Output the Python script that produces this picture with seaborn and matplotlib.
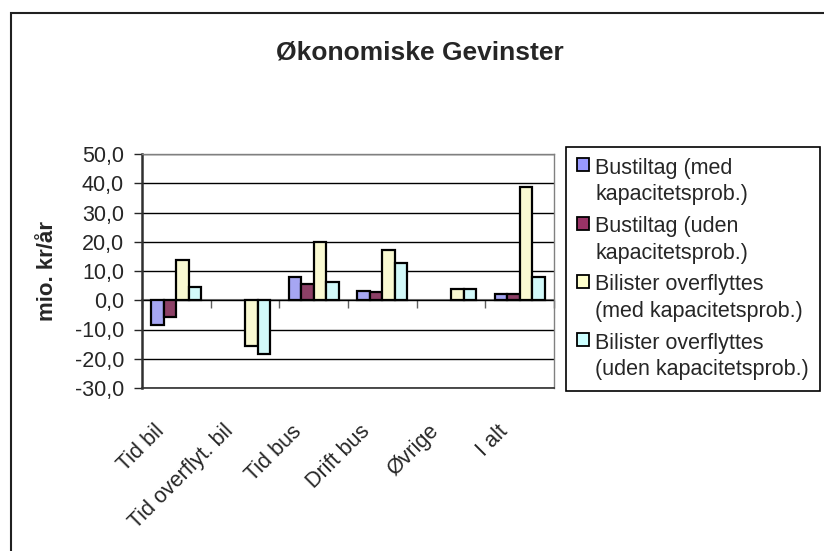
import seaborn as sns
import pandas as pd
import matplotlib.pyplot as plt
import matplotlib.patches as mpatches
from matplotlib.legend_handler import HandlerPatch
from matplotlib.ticker import FuncFormatter, FixedLocator
from matplotlib.transforms import ScaledTranslation

categories = ["Tid bil", "Tid overflyt. bil", "Tid bus", "Drift bus", "Øvrige", "I alt"]
series_names = ["Bustiltag (med\nkapacitetsprob.)",
                "Bustiltag (uden\nkapacitetsprob.)",
                "Bilister overflyttes\n(med kapacitetsprob.)",
                "Bilister overflyttes\n(uden kapacitetsprob.)"]
bus_med = [-8.6, 0.0, 8.0, 3.3, 0.0, 2.2]
bus_uden = [-5.7, 0.0, 5.7, 2.7, 0.0, 2.2]
bil_med = [13.6, -15.6, 20.0, 17.1, 3.9, 38.7]
bil_uden = [4.5, -18.4, 6.2, 12.6, 3.9, 8.0]
colors = ["#9999FF", "#993366", "#FFFFCC", "#CCFFFF"]
y_ticks = [-30, -20, -10, 0, 10, 20, 30, 40, 50]

rows = []
for name, vals in zip(series_names, [bus_med, bus_uden, bil_med, bil_uden]):
    for cat, v in zip(categories, vals):
        rows.append({"kategori": cat, "serie": name, "værdi": v})
df = pd.DataFrame(rows)

sns.set_style("white")
plt.rcParams['font.family'] = ['Liberation Sans', 'DejaVu Sans']

fig = plt.figure(figsize=(8.24, 5.51), dpi=100)
ax = fig.add_axes([142 / 824, 1 - 388 / 551, 412 / 824, 234 / 551])

sns.barplot(data=df, x="kategori", y="værdi", hue="serie", palette=colors,
            width=0.73, edgecolor="black", linewidth=1.6, ax=ax, errorbar=None,
            legend=False)

# Excel draws nothing for zero bars
for p in ax.patches:
    if p.get_height() == 0:
        p.set_linewidth(0)

ax.set_ylim(y_ticks[0], y_ticks[-1])
ax.set_xlim(-0.5, len(categories) - 0.5)
ax.yaxis.set_major_locator(FixedLocator(y_ticks))
ax.yaxis.set_major_formatter(FuncFormatter(lambda v, _: f"{v:.1f}".replace(".", ",")))
ax.grid(axis="y", color="black", linewidth=1)
ax.set_axisbelow(True)
ax.tick_params(axis="y", direction="out", length=6, width=1, pad=7, labelsize=15.5, left=True)
ax.tick_params(axis="x", length=0, labelsize=15.5, pad=29)

for lab in ax.get_xticklabels():
    lab.set_rotation(45)
    lab.set_ha("right")
    lab.set_va("center")
    lab.set_rotation_mode("anchor")
    lab.set_transform(lab.get_transform() + ScaledTranslation(-0.15, 0, fig.dpi_scale_trans))

ax.set_xlabel("")
ax.set_ylabel("mio. kr/år", fontsize=16, fontweight="bold")
ax.yaxis.set_label_coords(-0.205, 0.5)

for s in ["top", "right"]:
    ax.spines[s].set_color("#808080")
    ax.spines[s].set_linewidth(1)
ax.spines["left"].set_color("#303030")
ax.spines["left"].set_linewidth(1.8)
ax.spines["bottom"].set_color("#303030")
ax.spines["bottom"].set_linewidth(1.2)

# category axis crossing at zero
zero_pos = (0 - y_ticks[0]) / (y_ticks[-1] - y_ticks[0])
sec = ax.secondary_xaxis(zero_pos)
sec.set_xticks([i + 0.5 for i in range(-1, len(categories))])
sec.tick_params(direction="out", length=6, width=1, color="#606060", labelbottom=False)
sec.spines["bottom"].set_color("#808080")
sec.spines["bottom"].set_linewidth(1.5)


def first_line_patch(legend, orig_handle, xdescent, ydescent, width, height, fontsize):
    return mpatches.Rectangle((-xdescent, -ydescent + fontsize * 0.8), width, height)


handles = [mpatches.Patch(facecolor=c, edgecolor="black", linewidth=1.3) for c in colors]
leg = ax.legend(handles, series_names, loc="upper left", bbox_to_anchor=(1.029, 1.03),
                borderaxespad=0, fontsize=15.5, frameon=True, fancybox=False,
                edgecolor="black", framealpha=1, handlelength=0.55, handleheight=0.55,
                handletextpad=0.3, labelspacing=0.5, borderpad=0.5,
                handler_map={mpatches.Patch: HandlerPatch(patch_func=first_line_patch)})
leg.get_frame().set_linewidth(1.2)
for t in leg.get_texts():
    t.set_linespacing(1.35)

fig.text(420 / 824, 1 - 52 / 551, "Økonomiske Gevinster", ha="center", va="center",
         fontsize=19, fontweight="bold")

border = mpatches.Rectangle((11 / 824, -0.1), 1.2, 1 - 13 / 551 + 0.1, transform=fig.transFigure,
                            fill=False, edgecolor="#202020", linewidth=1.5)
fig.add_artist(border)

fig.savefig("out.png", dpi=100)
